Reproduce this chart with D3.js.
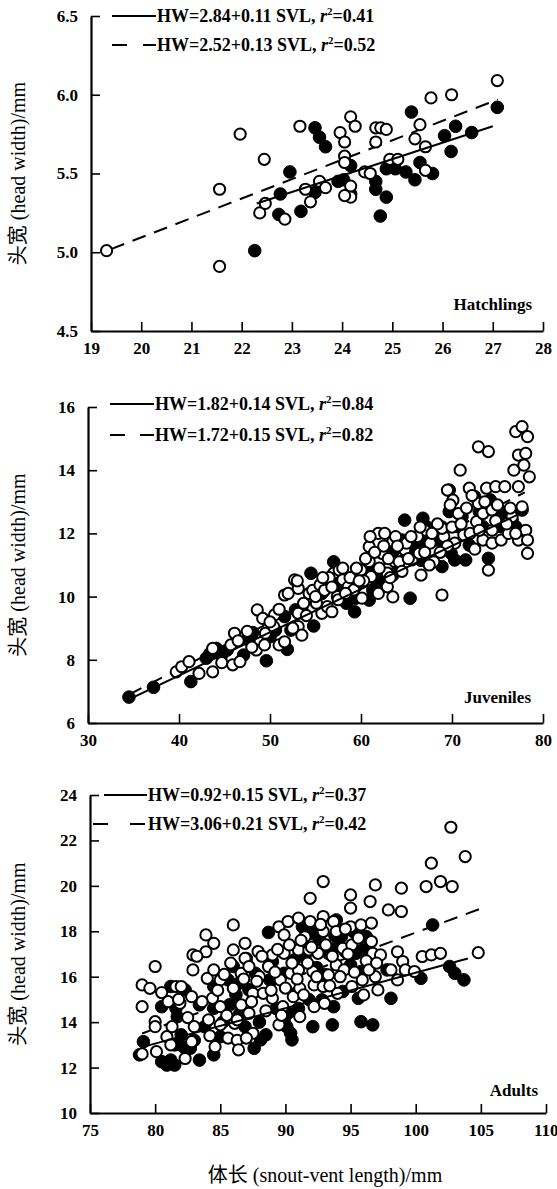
<!DOCTYPE html>
<html><head><meta charset="utf-8">
<script src="https://cdn.jsdelivr.net/npm/d3@7"></script>
<style>body{margin:0;background:#fff}svg{display:block}</style>
</head><body>
<svg id="c" width="557" height="1189"></svg>
<script>
// ---------- DATA ----------
const hatchXTicks = [19,20,21,22,23,24,25,26,27,28];
const hatchYTicks = [4.5,5.0,5.5,6.0,6.5];
const juvXTicks = [30,40,50,60,70,80];
const juvYTicks = [6,8,10,12,14,16];
const adultXTicks = [75,80,85,90,95,100,105,110];
const adultYTicks = [10,12,14,16,18,20,22,24];

const hatchOpen = [[19.31,5.01],[21.56,5.40],[21.56,4.91],[21.97,5.75],[22.45,5.59],[22.36,5.25],[22.47,5.31],[22.86,5.21],[23.16,5.80],[23.27,5.40],[23.37,5.32],[23.55,5.45],[23.67,5.41],[23.96,5.76],[24.05,5.70],[24.05,5.61],[24.05,5.57],[24.17,5.86],[24.26,5.80],[24.17,5.42],[24.17,5.35],[24.05,5.36],[24.45,5.51],[24.56,5.50],[24.67,5.70],[24.67,5.79],[24.77,5.79],[24.88,5.78],[24.95,5.59],[25.11,5.59],[25.45,5.72],[25.55,5.81],[25.66,5.67],[25.66,5.52],[25.77,5.98],[26.18,6.00],[27.09,6.09]];
const hatchFilled = [[22.26,5.01],[22.96,5.51],[22.77,5.37],[22.74,5.24],[23.18,5.26],[23.46,5.79],[23.55,5.73],[23.67,5.67],[23.46,5.38],[23.92,5.45],[24.03,5.46],[24.17,5.55],[24.17,5.37],[24.67,5.45],[24.67,5.40],[24.88,5.35],[24.76,5.23],[24.88,5.53],[25.06,5.53],[25.27,5.51],[25.45,5.46],[25.38,5.89],[25.55,5.57],[25.80,5.50],[26.04,5.74],[26.17,5.64],[26.26,5.80],[26.58,5.76],[27.09,5.92]];

const juvOpen = [[39.7,7.62],[40.3,7.78],[41.1,7.94],[42.2,7.57],[43.7,8.36],[43.7,7.62],[44.7,7.91],[45.9,7.84],[45.7,8.47],[46.1,8.84],[46.7,7.94],[48.5,8.31],[48.6,9.58],[49.2,9.31],[49.4,8.47],[49.5,8.84],[50.4,9.05],[50.5,9.42],[51.0,8.47],[51.6,8.57],[51.6,10.05],[52.7,10.53],[53.1,10.26],[53.1,9.47],[53.1,9.05],[53.5,8.78],[53.7,9.79],[54.3,10.1],[54.7,10.2],[55.5,10.37],[55.1,9.79],[55.7,9.47],[56.3,9.68],[56.8,9.52],[57.0,10.74],[57.6,10.84],[57.4,10.0],[58.0,10.53],[58.6,10.31],[59.2,10.21],[60.0,10.84],[60.1,9.95],[60.9,11.58],[60.9,11.11],[61.1,10.63],[61.9,12.0],[61.9,10.1],[62.3,11.37],[62.9,10.74],[62.9,10.31],[63.5,11.74],[63.5,9.99],[63.7,11.11],[64.8,11.48],[65.0,11.69],[65.6,11.16],[66.4,11.37],[66.6,10.68],[67.0,12.1],[67.6,11.69],[68.0,11.1],[69.1,11.9],[68.9,10.05],[68.9,12.16],[69.5,13.37],[70.1,13.05],[70.3,11.69],[70.9,14.0],[70.7,12.63],[71.3,11.95],[71.9,13.43],[72.7,12.37],[72.9,14.74],[72.9,12.95],[73.4,12.63],[73.4,11.79],[73.8,13.43],[74.0,14.59],[74.0,10.84],[74.4,12.74],[74.4,12.1],[74.4,11.69],[74.8,13.48],[75.8,13.48],[75.4,11.79],[76.2,12.0],[76.6,12.53],[76.8,14.0],[77.0,15.22],[77.3,13.48],[77.3,14.48],[77.7,15.38],[77.9,14.16],[78.1,14.53],[78.3,15.06],[78.5,13.79],[77.7,12.84],[77.3,11.79],[78.1,12.1],[78.3,11.79],[78.3,11.37],[77.0,12.0],
[52.0,10.1],[53.0,10.5],[54.0,9.4],[55.0,10.0],[56.0,10.2],[56.5,10.6],[57.5,9.9],[58.0,10.9],[58.8,10.6],[59.5,10.9],[60.3,10.5],[60.5,11.2],[61.5,11.4],[62.0,10.9],[62.5,11.6],[63.0,11.2],[63.8,11.9],[64.2,11.1],[64.5,10.8],[65.2,11.2],[66.2,11.9],[67.0,11.4],[67.5,11.0],[68.4,12.3],[69.5,11.6],[70.0,12.2],[71.0,12.3],[72.0,12.0],[72.5,11.5],[73.0,12.1],[75.0,12.9],[76.0,12.3],[46.5,8.6],[47.5,8.9],[48.0,8.4],[50.0,9.2],[51.0,9.6],[52.5,9.0],
[55.8,10.6],[56.8,10.3],[58.3,10.1],[59.8,10.5],[61.0,11.9],[62.6,12.0],[63.2,10.6],[64.0,11.6],[65.5,11.9],[66.5,12.2],[67.8,12.0],[68.7,11.4],[69.8,12.9],[71.6,12.8],[72.2,13.2],[73.6,13.0],[74.8,12.4],[76.4,12.8]];
const juvFilled = [[34.5,6.82],[37.2,7.13],[41.3,7.31],[43.0,8.05],[44.1,8.36],[44.7,8.15],[47.1,8.15],[48.1,8.86],[49.6,7.97],[50.6,8.94],[51.9,8.33],[52.3,8.94],[52.8,9.58],[54.8,9.07],[54.5,10.74],[57.0,11.1],[57.0,10.4],[58.4,9.79],[59.3,9.52],[59.4,9.95],[60.9,9.89],[61.0,10.74],[61.3,10.2],[62.1,10.42],[62.7,11.32],[63.5,10.68],[64.1,10.94],[64.8,12.42],[65.4,9.95],[65.8,11.37],[66.0,11.58],[66.8,12.48],[66.6,11.15],[67.2,12.21],[68.9,10.95],[68.9,12.2],[69.7,12.69],[69.7,13.37],[69.9,11.37],[70.3,11.16],[71.5,11.16],[71.9,11.63],[72.5,13.16],[73.0,12.69],[74.0,11.21],[75.6,12.64],[77.0,12.21],[77.7,12.74],
[43.4,8.20],[45.3,8.31],[47.7,8.63],[50.0,8.73],[51.6,9.37],[53.5,9.58],[55.7,10.1],[56.3,10.53],[57.8,10.31],[59.4,10.31],[60.2,10.74],[61.7,10.84],[62.5,10.74],[63.7,11.48],[64.5,11.79],[66.8,11.79],[68.4,11.79],[70.7,12.21],[71.1,12.53],[73.4,12.21],[75.4,12.21],[76.6,12.42],[74.2,13.06]];

const adultOpen = [[79.0,15.64],[79.0,14.68],[79.0,12.6],[79.6,15.49],[80.0,16.45],[80.0,14.02],[80.0,13.8],[80.1,12.7],[80.9,13.36],[81.2,13.0],[81.3,13.8],[81.6,15.57],[82.0,15.57],[81.9,14.83],[82.3,12.4],[82.8,15.12],[82.9,16.96],[82.9,16.3],[82.8,13.14],[83.9,17.84],[83.9,17.1],[84.0,15.93],[84.5,17.47],[84.5,16.3],[84.1,14.1],[84.4,15.05],[84.6,12.92],[85.0,13.88],[85.0,15.86],[85.0,14.68],[85.6,13.3],[86.0,18.28],[86.0,17.18],[86.0,15.49],[86.1,13.95],[86.3,13.2],[86.4,12.78],[86.9,17.47],[86.9,16.81],[86.6,16.15],[86.6,14.76],[87.2,16.45],[87.2,14.39],[87.5,15.27],[87.5,13.51],[87.9,17.11],[88.0,16.0],[88.3,15.27],[88.7,16.45],[89.0,16.96],[89.0,15.05],[89.5,13.88],[89.5,18.2],[89.6,15.86],[89.9,17.84],[89.9,17.03],[89.8,14.68],[90.2,18.43],[90.4,16.15],[90.6,15.12],[91.0,18.58],[91.0,17.18],[91.0,16.3],[91.1,15.49],[91.1,14.24],[91.5,17.76],[91.8,17.18],[91.9,19.45],[91.9,18.43],[92.1,16.23],[92.2,15.64],[92.2,14.68],[92.5,17.03],[92.9,20.19],[92.9,18.65],[92.9,17.99],[92.9,15.57],[93.0,14.83],[93.3,16.08],[93.7,18.43],[93.9,17.99],[93.9,16.52],[94.0,15.27],[94.4,17.25],[94.5,16.3],[95.0,19.6],[95.0,19.02],[95.0,18.2],[95.1,17.4],[95.1,15.57],[95.8,18.28],[95.9,15.86],[96.0,15.2],[96.5,19.31],[96.6,18.36],[96.6,17.55],[96.7,17.03],[96.9,16.0],[96.9,20.04],[97.1,15.42],[97.3,16.96],[97.9,18.94],[98.1,16.3],[98.6,17.1],[98.6,15.86],[98.9,19.9],[98.9,18.87],[99.0,16.67],[99.2,16.3],[99.9,16.23],[100.5,16.89],[100.8,19.97],[101.2,21.0],[101.2,16.96],[101.9,20.19],[101.9,17.03],[102.7,22.58],[102.8,19.97],[103.8,21.29],[104.8,17.06],
[80.5,15.3],[81.0,14.9],[81.8,15.0],[82.5,14.2],[83.0,13.8],[83.2,16.9],[83.6,14.9],[84.2,13.4],[84.8,15.4],[85.3,16.1],[85.5,14.3],[85.8,16.6],[86.3,14.1],[86.8,15.9],[87.0,13.3],[87.4,14.9],[87.8,15.8],[88.2,16.9],[88.5,14.5],[88.9,15.4],[89.2,16.2],[89.4,17.2],[89.7,14.3],[90.0,15.5],[90.3,17.4],[90.5,16.6],[90.9,15.9],[91.2,17.6],[91.4,15.2],[91.7,16.6],[92.0,17.3],[92.4,16.0],[92.7,18.3],[93.1,17.4],[93.4,15.6],[93.6,16.9],[94.2,16.0],[94.6,18.1],[94.8,17.0],[95.3,16.2],[95.6,17.7],[96.2,16.7],[96.4,16.3],[97.0,16.6]];
const adultFilled = [[78.8,12.56],[79.1,13.14],[80.5,12.26],[80.9,12.11],[81.2,12.33],[81.5,12.11],[80.5,14.68],[81.2,15.57],[81.6,14.61],[81.7,14.24],[82.0,13.44],[82.7,12.85],[83.4,12.33],[83.4,14.76],[84.5,14.61],[84.5,12.56],[85.0,13.36],[85.7,14.76],[86.0,16.45],[86.2,15.2],[86.5,14.39],[86.9,13.8],[87.6,12.85],[88.1,13.22],[88.5,13.44],[88.7,17.95],[89.0,16.67],[89.9,14.1],[90.1,13.8],[90.4,13.51],[90.5,13.22],[90.8,15.27],[91.3,18.2],[92.1,13.8],[92.8,14.98],[93.3,17.03],[93.6,13.88],[93.7,14.68],[93.9,18.5],[94.4,15.35],[95.0,16.52],[95.4,17.91],[95.8,16.23],[95.6,15.05],[95.8,14.02],[96.7,13.88],[96.2,17.77],[97.8,16.3],[98.1,15.05],[100.4,15.93],[101.3,18.28],[102.6,16.45],[103.0,16.15],[103.7,15.86],
[82.3,15.42],[84.5,15.57],[85.6,15.86],[87.2,15.42],[87.7,16.15],[88.8,15.86],[89.9,16.15],[90.7,16.74],[91.5,16.89],[92.1,17.91],[92.6,17.62],[94.0,17.33],[94.3,17.77],[95.4,17.03],[96.5,16.45],
[81.5,13.0],[82.2,12.9],[83.0,13.2],[83.8,13.8],[85.2,14.0],[86.4,15.7],[87.0,16.8],[88.0,14.0],[89.3,14.6],[90.2,14.4],[91.0,14.6],[91.8,15.0],[92.4,16.4],[93.0,16.1],[93.8,17.8],[94.6,17.1],[95.2,18.0],[96.0,17.2]];

// fitted lines (endpoints)
const hatchSolid = [[22.3,5.31],[27.0,5.80]];
const hatchDashed = [[19.4,5.02],[27.1,5.97]];
const juvSolid = [[34.5,6.75],[78.0,12.7]];
const juvDashed = [[34.5,6.9],[78.0,13.3]];
const adultSolid = [[79.0,12.9],[104.0,16.8]];
const adultDashed = [[79.0,13.5],[105.0,19.0]];

const hatchLegend = [["HW=2.84+0.11 SVL, ","0.41"],["HW=2.52+0.13 SVL, ","0.52"]];
const juvLegend = [["HW=1.82+0.14 SVL, ","0.84"],["HW=1.72+0.15 SVL, ","0.82"]];
const adultLegend = [["HW=0.92+0.15 SVL, ","0.37"],["HW=3.06+0.21 SVL, ","0.42"]];

// ---------- LAYOUT ----------
const panels = [
 {label:"Hatchlings", xd:[19,28], yd:[4.5,6.5], xt:hatchXTicks, yt:hatchYTicks, yf:d3.format(".1f"),
  L:91,R:543,T:16,B:331, open:hatchOpen, filled:hatchFilled, solid:hatchSolid, dashed:hatchDashed, legend:hatchLegend,
  labX:532, labY:310, legY:[16,45], solidX:[112,156], dashX:[[112,127],[143,156]], textX:157},
 {label:"Juveniles", xd:[30,80], yd:[6,16], xt:juvXTicks, yt:juvYTicks, yf:d3.format("d"),
  L:88,R:543,T:407,B:723, open:juvOpen, filled:juvFilled, solid:juvSolid, dashed:juvDashed, legend:juvLegend,
  labX:531, labY:703, legY:[404,435], solidX:[110,154], dashX:[[110,125],[140,154]], textX:155},
 {label:"Adults", xd:[75,110], yd:[10,24], xt:adultXTicks, yt:adultYTicks, yf:d3.format("d"),
  L:90,R:546,T:795,B:1113, open:adultOpen, filled:adultFilled, solid:adultSolid, dashed:adultDashed, legend:adultLegend,
  labX:538, labY:1096, legY:[795,824], solidX:[104,147], dashX:[[93,108],[130,145]], textX:148}
];

const svg = d3.select("#c");
const FONT = "'Liberation Serif','Times New Roman',serif";

panels.forEach(p => {
  const x = d3.scaleLinear().domain(p.xd).range([p.L,p.R]);
  const y = d3.scaleLinear().domain(p.yd).range([p.B,p.T]);
  const g = svg.append("g");

  const ax = g.append("g").attr("transform",`translate(0,${p.B})`)
    .call(d3.axisBottom(x).tickValues(p.xt).tickSizeInner(-9).tickSizeOuter(0).tickPadding(11));
  const ay = g.append("g").attr("transform",`translate(${p.L},0)`)
    .call(d3.axisLeft(y).tickValues(p.yt).tickFormat(p.yf).tickSizeInner(-9).tickSizeOuter(0).tickPadding(13));
  [ax,ay].forEach(a=>{
    a.select(".domain").attr("stroke","#000").attr("stroke-width",2.2);
    a.selectAll(".tick line").attr("stroke","#000").attr("stroke-width",1.6);
    a.selectAll(".tick text").attr("fill","#000").attr("font-family",FONT).attr("font-size",17).attr("font-weight","bold");
  });
  // keep the last x label inside the page
  ax.selectAll(".tick text").filter(d=>x(d)+14>557).attr("text-anchor","end").attr("dx",12);

  const line = d3.line().x(d=>x(d[0])).y(d=>y(d[1]));
  g.append("path").attr("d",line(p.dashed)).attr("fill","none").attr("stroke","#000").attr("stroke-width",2).attr("stroke-dasharray","14,9");

  g.selectAll(".f").data(p.filled).join("circle").attr("cx",d=>x(d[0])).attr("cy",d=>y(d[1])).attr("r",6.3).attr("fill","#000").attr("stroke","#000").attr("stroke-width",1);
  g.selectAll(".o").data(p.open).join("circle").attr("cx",d=>x(d[0])).attr("cy",d=>y(d[1])).attr("r",5.6).attr("fill","#fff").attr("stroke","#000").attr("stroke-width",2);

  g.append("path").attr("d",line(p.solid)).attr("fill","none").attr("stroke","#000").attr("stroke-width",2);

  g.append("line").attr("x1",p.solidX[0]).attr("x2",p.solidX[1]).attr("y1",p.legY[0]).attr("y2",p.legY[0]).attr("stroke","#000").attr("stroke-width",2);
  p.dashX.forEach(dx=>g.append("line").attr("x1",dx[0]).attr("x2",dx[1]).attr("y1",p.legY[1]).attr("y2",p.legY[1]).attr("stroke","#000").attr("stroke-width",2));
  p.legend.forEach((lg,i)=>{
    const t = g.append("text").attr("x",p.textX).attr("y",p.legY[i]+6).attr("font-family",FONT).attr("font-size",18).attr("font-weight","bold").attr("fill","#000");
    t.append("tspan").text(lg[0]);
    t.append("tspan").attr("font-style","italic").text("r");
    t.append("tspan").attr("dy",-7).attr("font-size",11).text("2");
    t.append("tspan").attr("dy",7).text("="+lg[1]);
  });

  g.append("text").attr("x",p.labX).attr("y",p.labY).attr("text-anchor","end").attr("font-family",FONT).attr("font-size",17).attr("font-weight","bold").text(p.label);

  g.append("text").attr("transform",`translate(18,${(p.T+p.B)/2}) rotate(-90)`).attr("text-anchor","middle").attr("dy","0.35em")
    .attr("font-family",FONT+",'Noto Sans CJK SC'").attr("font-size",20).text("头宽 (head width)/mm");
});

svg.append("text").attr("x",325).attr("y",1182).attr("text-anchor","middle").attr("font-family",FONT+",'Noto Sans CJK SC'").attr("font-size",20).text("体长 (snout-vent length)/mm");
</script>
</body></html>
